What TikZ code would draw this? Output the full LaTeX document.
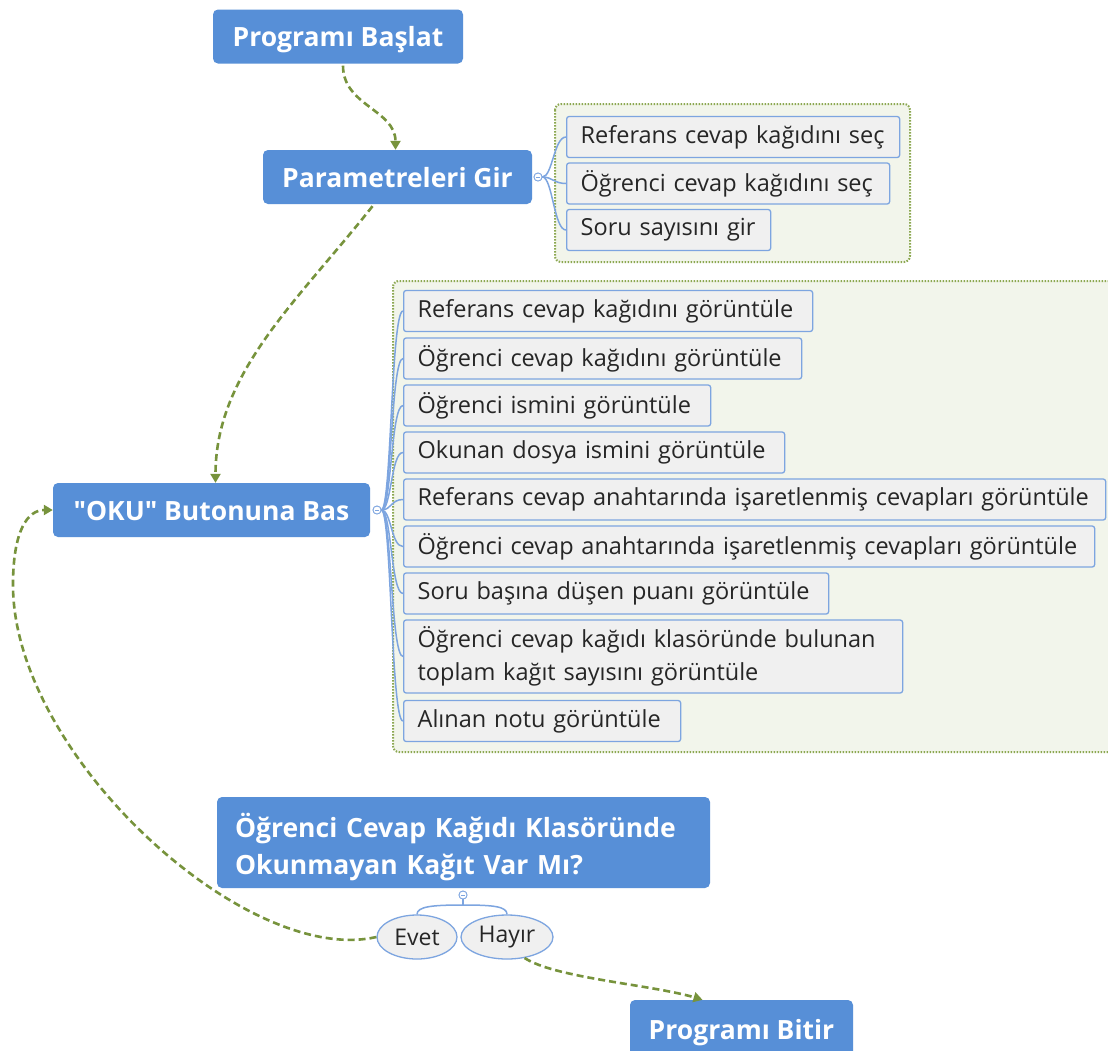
\documentclass[tikz,border=0pt]{standalone}
\usepackage{fontspec}
\setmainfont{Open Sans}
\usetikzlibrary{arrows.meta,shapes.geometric,calc}

\definecolor{topic-blue}{HTML}{578FD7}
\definecolor{item-bg}{HTML}{F0F0F0}
\definecolor{item-line}{HTML}{7DA5E0}
\definecolor{group-bg}{HTML}{F2F5EB}
\definecolor{group-line}{HTML}{8CA851}
\definecolor{flow-green}{HTML}{77933C}
\definecolor{text-dark}{HTML}{262626}

\begin{document}
\begin{tikzpicture}[x=1pt, y=1pt,
        topicbase/.style={fill=topic-blue, rounded corners=5pt, text=white,
            font=\fontsize{26.5}{37}\selectfont\bfseries, minimum height=54pt, inner sep=0pt},
        topic/.style={topicbase, text height=24pt, text depth=4pt},
        item/.style={draw=item-line, line width=1.3pt, fill=item-bg, rounded corners=2.5pt,
            text=text-dark, font=\fontsize{23.5}{33}\selectfont, anchor=west,
            inner xsep=14pt, inner ysep=0pt, minimum height=41pt, text width=#1, align=left},
        answer/.style={ellipse, draw=item-line, line width=1.3pt, fill=item-bg,
            text=text-dark, font=\fontsize{23}{26}\selectfont, inner sep=0pt, minimum height=44pt},
        group/.style={draw=group-line, fill=group-bg, line width=2pt,
            dash pattern=on 1.5pt off 1.5pt, rounded corners=6pt},
        knob/.style={circle, draw=item-line, fill=white, line width=0.8pt,
            minimum size=8pt, inner sep=0pt},
        branch/.style={draw=item-line, line width=1.5pt},
        flow/.style={draw=flow-green, line width=2.6pt, dash pattern=on 7pt off 4pt,
            -{Triangle[length=9pt,width=10pt]}}]
      \useasboundingbox[fill=white] (0,0) rectangle (1108,-1050);

      % dotted groups behind the sub-topics
      \draw[group] (555,-104) rectangle (910,-262);
      \draw[group] (393,-281) rectangle (1130,-752);

      % main flow
      \node[topic, minimum width=250pt] (start) at (338,-36.5) {Programı Başlat};
      \node[topic, minimum width=269pt] (params) at (397.5,-177) {Parametreleri Gir};
      \node[topic, minimum width=317pt] (oku) at (211.5,-510) {\textquotedbl OKU\textquotedbl{} Butonuna Bas};
      \node[topicbase, text width=457pt, inner xsep=18pt, align=left, minimum height=91pt]
            (question) at (463.5,-842.5) {\rule{0pt}{34pt}Öğrenci Cevap Kağıdı Klasöründe\\Okunmayan Kağıt Var Mı?};
      \node[topic, minimum width=223pt, minimum height=58pt] (finish) at (741.5,-1029) {Programı Bitir};

      % parameters
      \node[item=305pt] (ref-sec) at (566,-137) {Referans cevap kağıdını seç};
      \node[item=295pt] (ogr-sec) at (566,-183.5) {Öğrenci cevap kağıdını seç};
      \node[item=176pt] (soru-gir) at (566,-230) {Soru sayısını gir};

      % what the read button shows
      \node[item=381pt] (ref-goster) at (403,-311) {Referans cevap kağıdını görüntüle};
      \node[item=370pt] (ogr-goster) at (403,-358.5) {Öğrenci cevap kağıdını görüntüle};
      \node[item=279pt] (isim) at (403,-405.5) {Öğrenci ismini görüntüle};
      \node[item=353pt] (dosya) at (403,-452.5) {Okunan dosya ismini görüntüle};
      \node[item=674pt] (ref-isaret) at (403,-499.5) {Referans cevap anahtarında işaretlenmiş cevapları görüntüle};
      \node[item=663pt] (ogr-isaret) at (403,-546.5) {Öğrenci cevap anahtarında işaretlenmiş cevapları görüntüle};
      \node[item=397pt] (puan) at (403,-593.5) {Soru başına düşen puanı görüntüle};
      \node[item=471pt, minimum height=73pt] (kagit) at (403,-656.5)
            {Öğrenci cevap kağıdı klasöründe bulunan\\toplam kağıt sayısını görüntüle};
      \node[item=249pt] (not) at (403,-721) {Alınan notu görüntüle};

      % answers
      \node[answer, minimum width=80pt] (evet) at (417,-937) {Evet};
      \node[answer, minimum width=92pt] (hayir) at (507,-937) {Hayır};

      % branches
      \node[knob] (knob-params) at (538,-177) {};
      \node[knob] (knob-oku) at (377,-510) {};
      \node[knob] (knob-question) at (463,-895) {};
      \coordinate (fork) at (463,-905);
      \foreach \n in {ref-sec, ogr-sec, soru-gir}
        \draw[branch] (knob-params.east) .. controls +(10,0) and +(-12,0) .. (\n.west);
      \foreach \n in {ref-goster, ogr-goster, isim, dosya, ref-isaret, ogr-isaret, puan, kagit, not}
        \draw[branch] (knob-oku.east) .. controls +(10,0) and +(-12,0) .. (\n.west);
      \draw[branch] (evet.north) .. controls +(0,8) and +(-30,0) .. (fork)
            .. controls +(30,0) and +(0,8) .. (hayir.north);
      \draw[branch] (knob-question) -- (fork);
      \foreach \k in {knob-params, knob-oku, knob-question} {
        \node[knob] at (\k) {};
        \draw[item-line, line width=0.7pt] ($(\k)+(-2,0)$) -- ($(\k)+(2,0)$);
      }

      % flow arrows
      \coordinate (loopturn) at (13,-585);
      \draw[flow] ($(start.south)+(5,-2)$) .. controls +(0,-40) and +(0,40) .. ($(params.north)+(-2,0)$);
      \draw[flow] ($(params.south)+(-25,-2)$) .. controls +(-75,-95) and +(0,110) .. ($(oku.north)+(4,0)$);
      \draw[flow] (evet.west) .. controls +(-130,-30) and +(0,-170) .. (loopturn)
            .. controls +(0,55) and +(-25,0) .. (oku.west);
      \draw[flow] (hayir.-50) .. controls +(30,-20) and +(-50,15) .. ($(finish.north)+(-39,0)$);
    \end{tikzpicture}
\end{document}
